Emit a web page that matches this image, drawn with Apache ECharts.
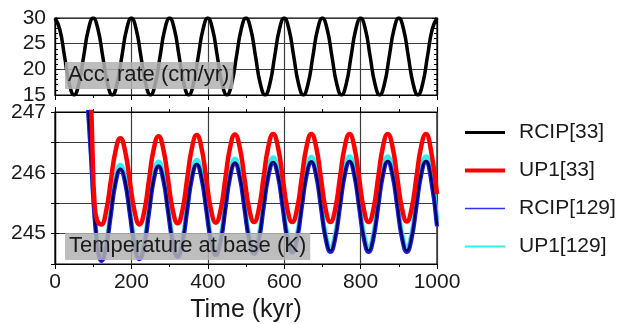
<!DOCTYPE html>
<html>
<head>
<meta charset="utf-8">
<script src="https://cdn.jsdelivr.net/npm/echarts@6/dist/echarts.min.js"></script>
<style>html,body{margin:0;padding:0;background:#fff}#c{width:623px;height:324px}</style>
</head>
<body>
<div id="c"></div>
<script>
// ---------- data ----------
const xTicks = [0, 200, 400, 600, 800, 1000];
const accTicks = [15, 20, 25, 30];
const tempTicks = [245, 246, 247];

// Accumulation rate (cm/yr) vs time (kyr)
const accTime = [0,12.5,25,37.5,50,62.5,75,87.5,100,112.5,125,137.5,150,162.5,175,187.5,200,212.5,225,237.5,250,262.5,275,287.5,300,312.5,325,337.5,350,362.5,375,387.5,400,412.5,425,437.5,450,462.5,475,487.5,500,512.5,525,537.5,550,562.5,575,587.5,600,612.5,625,637.5,650,662.5,675,687.5,700,712.5,725,737.5,750,762.5,775,787.5,800,812.5,825,837.5,850,862.5,875,887.5,900,912.5,925,937.5,950,962.5,975,987.5,1000];
const accRate = [30,27.8,22.5,17.2,15,17.2,22.5,27.8, 30,27.8,22.5,17.2,15,17.2,22.5,27.8, 30,27.8,22.5,17.2,15,17.2,22.5,27.8, 30,27.8,22.5,17.2,15,17.2,22.5,27.8, 30,27.8,22.5,17.2,15,17.2,22.5,27.8, 30,27.8,22.5,17.2,15,17.2,22.5,27.8, 30,27.8,22.5,17.2,15,17.2,22.5,27.8, 30,27.8,22.5,17.2,15,17.2,22.5,27.8, 30,27.8,22.5,17.2,15,17.2,22.5,27.8, 30,27.8,22.5,17.2,15,17.2,22.5,27.8, 30];

// Temperature at base (K): shared sample times after the first trough
const tempTime = [121,133.5,146,158.5,171,183.5,196,208.5, 221,233.5,246,258.5,271,283.5,296,308.5, 321,333.5,346,358.5,371,383.5,396,408.5, 421,433.5,446,458.5,471,483.5,496,508.5, 521,533.5,546,558.5,571,583.5,596,608.5, 621,633.5,646,658.5,671,683.5,696,708.5, 721,733.5,746,758.5,771,783.5,796,808.5, 821,833.5,846,858.5,871,883.5,896,908.5, 921,933.5,946,958.5,971,983.5,1000];

// initial drop (series specific times / values)
const leadTimeUP1_33 = [94, 98, 103, 110];
const leadUP1_33 = [247.30, 246.40, 245.55, 245.22];
const leadTime129 = [86, 94, 101, 108, 114];
const leadRCIP_33 = [247.12, 246.32, 245.52, 244.97, 244.68];
const leadRCIP_129 = [247.10, 246.30, 245.50, 244.95, 244.66];
const leadUP1_129 = [247.15, 246.36, 245.57, 245.02, 244.73];

const tempUP1_33 = [245.15,245.36,245.86,246.36,246.57,246.36,245.86,245.36,
  245.15,245.36,245.88,246.39,246.60,246.39,245.89,245.38,
  245.17,245.38,245.90,246.41,246.62,246.41,245.90,245.39,
  245.18,245.39,245.91,246.42,246.63,246.42,245.91,245.40,
  245.19,245.40,245.92,246.43,246.64,246.43,245.92,245.40,
  245.19,245.40,245.92,246.43,246.64,246.43,245.92,245.40,
  245.19,245.40,245.92,246.43,246.64,246.43,245.92,245.40,
  245.19,245.40,245.92,246.43,246.64,246.43,245.92,245.41,
  245.20,245.41,245.92,246.43,246.64,246.40,245.65];
const tempRCIP_33 = [244.57,244.79,245.32,245.85,246.07,245.86,245.34,244.82,
  244.60,244.82,245.36,245.90,246.12,245.90,245.38,244.86,
  244.64,244.86,245.40,245.93,246.15,245.93,245.41,244.89,
  244.67,244.89,245.42,245.95,246.17,245.95,245.43,244.91,
  244.69,244.91,245.44,245.96,246.18,245.97,245.45,244.93,
  244.71,244.93,245.45,245.97,246.19,245.98,245.46,244.94,
  244.72,244.94,245.46,245.98,246.20,245.98,245.46,244.94,
  244.72,244.94,245.46,245.98,246.20,245.98,245.46,244.94,
  244.72,244.94,245.46,245.98,246.20,245.95,245.14];
const tempRCIP_129 = [244.55,244.77,245.30,245.83,246.05,245.84,245.32,244.80,
  244.58,244.80,245.34,245.88,246.10,245.88,245.36,244.84,
  244.62,244.84,245.38,245.91,246.13,245.91,245.39,244.87,
  244.65,244.87,245.40,245.93,246.15,245.93,245.41,244.89,
  244.67,244.89,245.42,245.94,246.16,245.95,245.43,244.91,
  244.69,244.91,245.43,245.95,246.17,245.96,245.44,244.92,
  244.70,244.92,245.44,245.96,246.18,245.96,245.44,244.92,
  244.70,244.92,245.44,245.96,246.18,245.96,245.44,244.92,
  244.70,244.92,245.44,245.96,246.18,245.93,245.12];
const tempUP1_129 = [244.62,244.84,245.38,245.91,246.13,245.91,245.39,244.87,
  244.65,244.87,245.42,245.96,246.18,245.96,245.44,244.91,
  244.69,244.91,245.45,245.99,246.21,245.99,245.47,244.94,
  244.72,244.94,245.48,246.01,246.23,246.01,245.49,244.96,
  244.74,244.96,245.50,246.03,246.25,246.03,245.51,244.98,
  244.76,244.98,245.51,246.04,246.26,246.04,245.52,244.99,
  244.77,244.99,245.52,246.05,246.27,246.05,245.53,245.00,
  244.78,245.00,245.53,246.05,246.27,246.05,245.53,245.00,
  244.78,245.00,245.53,246.05,246.27,246.02,245.22];

const seriesNames = ['RCIP[33]', 'UP1[33]', 'RCIP[129]', 'UP1[129]'];

// ---------- build ----------
const zip = (t, v) => t.map((x, i) => [x, v[i]]);
const FONT = 'Liberation Sans, Arial, Helvetica, sans-serif';
const TXT = '#1a1a1a';
const GRIDC = '#3c3c3c';
const BOX = 'rgba(178,178,178,0.86)';

const chart = echarts.init(document.getElementById('c'), null, {renderer: 'canvas'});

const xBase = (grid) => ({
  type: 'value', gridIndex: grid, min: 0, max: 1000, interval: 200,
  axisLine: {show: true, onZero: false, lineStyle: {color: '#000', width: 1.2}},
  axisTick: {show: true, inside: false, length: 5, lineStyle: {color: '#000'}},
  minorTick: {show: true, splitNumber: 2, length: 3, lineStyle: {color: '#000'}},
  splitLine: {show: true, lineStyle: {color: GRIDC, width: 1.2}},
  axisLabel: {show: false}
});

const option = {
  animation: false,
  backgroundColor: '#fff',
  textStyle: {fontFamily: FONT},
  grid: [
    {left: 55, top: 18, width: 382, height: 77, show: true, borderColor: '#000', borderWidth: 1.2},
    {left: 55, top: 112, width: 382, height: 152, show: true, borderColor: '#000', borderWidth: 1.2}
  ],
  title: [
    {text: 'Acc. rate (cm/yr)', left: 65, top: 62, padding: [2, 4, 3, 3], zlevel: 1, z: 20,
     backgroundColor: BOX,
     textStyle: {fontFamily: FONT, fontSize: 22, fontWeight: 'normal', color: TXT}},
    {text: 'Temperature at base (K)', left: 65, top: 233, padding: [2, 4, 3, 4], zlevel: 1, z: 20,
     backgroundColor: BOX,
     textStyle: {fontFamily: FONT, fontSize: 22, fontWeight: 'normal', color: TXT}}
  ],
  legend: {
    orient: 'vertical', left: 463, top: 122, padding: 0,
    itemWidth: 40, itemHeight: 14, itemGap: 17,
    itemStyle: {opacity: 0},
    textStyle: {fontFamily: FONT, fontSize: 21, color: TXT, padding: [0, 0, 0, 9]},
    data: [
      {name: seriesNames[0], lineStyle: {width: 3, color: '#000'}},
      {name: seriesNames[1], lineStyle: {width: 4, color: '#ff0000'}},
      {name: seriesNames[2], lineStyle: {width: 1.5, color: '#3030ff'}},
      {name: seriesNames[3], lineStyle: {width: 2.2, color: '#33eeee'}}
    ]
  },
  xAxis: [
    xBase(0),
    Object.assign(xBase(1), {
      axisLabel: {show: true, fontSize: 21, color: TXT, margin: 8, fontFamily: FONT,
        customValues: xTicks, formatter: v => String(v)},
      name: 'Time (kyr)', nameLocation: 'middle', nameGap: 34,
      nameTextStyle: {fontSize: 25, color: TXT, fontFamily: FONT}
    }),
    Object.assign(xBase(1), {position: 'top', splitLine: {show: false}})
  ],
  yAxis: [
    {type: 'value', gridIndex: 0, min: 15, max: 30, interval: 5,
     axisLine: {show: true, lineStyle: {color: '#000', width: 1.2}},
     axisTick: {show: true, inside: true, length: 5, lineStyle: {color: '#000'}},
     minorTick: {show: true, splitNumber: 5, length: 3, lineStyle: {color: '#000'}},
     splitLine: {show: true, lineStyle: {color: GRIDC, width: 1.2}},
     axisLabel: {fontSize: 21, color: TXT, margin: 9, fontFamily: FONT, customValues: accTicks}},
    {type: 'value', gridIndex: 0, min: 15, max: 30, interval: 5, position: 'right',
     axisLine: {show: true, lineStyle: {color: '#000', width: 1.2}},
     axisTick: {show: true, inside: true, length: 5, lineStyle: {color: '#000'}},
     minorTick: {show: true, splitNumber: 5, length: 3, lineStyle: {color: '#000'}},
     splitLine: {show: false}, axisLabel: {show: false}},
    {type: 'value', gridIndex: 1, min: 244.5, max: 247, interval: 0.5,
     axisLine: {show: true, lineStyle: {color: '#000', width: 1.2}},
     axisTick: {show: true, inside: true, length: 4, lineStyle: {color: '#000'}},
     splitLine: {show: true, lineStyle: {color: GRIDC, width: 1.2}},
     axisLabel: {fontSize: 21, color: TXT, margin: 9, fontFamily: FONT, customValues: tempTicks}},
    {type: 'value', gridIndex: 1, min: 244.5, max: 247, interval: 0.5, position: 'right',
     axisLine: {show: true, lineStyle: {color: '#000', width: 1.2}},
     axisTick: {show: true, inside: true, length: 4, lineStyle: {color: '#000'}},
     splitLine: {show: false}, axisLabel: {show: false}}
  ],
  series: [
    {type: 'line', name: 'acc', xAxisIndex: 0, yAxisIndex: 0, smooth: true, symbol: 'none',
     lineStyle: {color: '#000', width: 3.5}, data: zip(accTime, accRate), z: 3},
    {type: 'line', name: seriesNames[3], xAxisIndex: 1, yAxisIndex: 2, smooth: true, symbol: 'none',
     color: '#33eeee', lineStyle: {color: '#33eeee', width: 4.5},
     data: zip(leadTime129.concat(tempTime), leadUP1_129.concat(tempUP1_129)), z: 3},
    {type: 'line', name: seriesNames[2], xAxisIndex: 1, yAxisIndex: 2, smooth: true, symbol: 'none',
     color: '#1a1ae0', lineStyle: {color: '#1a1ae0', width: 4.2},
     data: zip(leadTime129.concat(tempTime), leadRCIP_129.concat(tempRCIP_129)), z: 3},
    {type: 'line', name: seriesNames[0], xAxisIndex: 1, yAxisIndex: 2, smooth: true, symbol: 'none',
     color: '#000', lineStyle: {color: '#000050', width: 2},
     data: zip(leadTime129.concat(tempTime), leadRCIP_33.concat(tempRCIP_33)), z: 3},
    {type: 'line', name: seriesNames[1], xAxisIndex: 1, yAxisIndex: 2, smooth: true, symbol: 'none',
     color: '#ff0000', lineStyle: {color: '#ff0000', width: 4.5},
     data: zip(leadTimeUP1_33.concat(tempTime), leadUP1_33.concat(tempUP1_33)), z: 3}
  ]
};
chart.setOption(option);
</script>
</body>
</html>
